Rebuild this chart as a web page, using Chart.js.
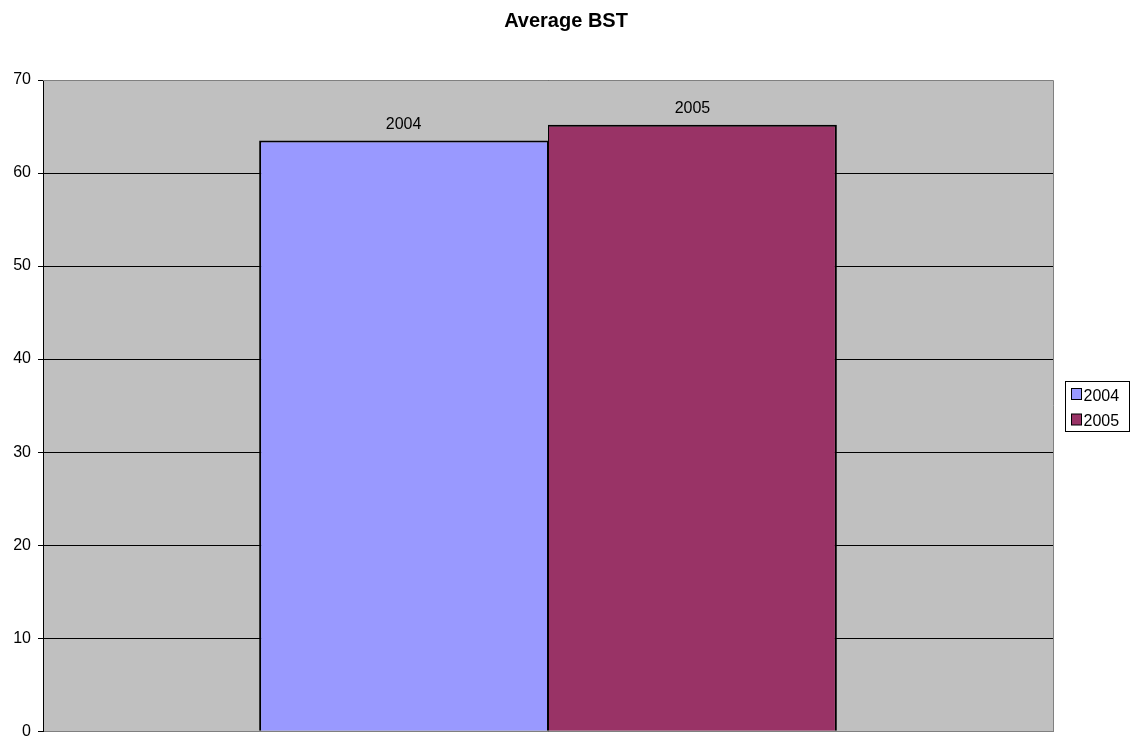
<!DOCTYPE html>
<html>
<head>
<meta charset="utf-8">
<script src="https://cdn.jsdelivr.net/npm/chart.js@4/dist/chart.umd.min.js"></script>
<style>
html,body{margin:0;padding:0;background:#fff;}
#wrap{width:1131px;height:739px;position:relative;}
</style>
</head>
<body>
<div id="wrap"><canvas id="c" width="1131" height="739"></canvas></div>
<script>
const chartTitle = "Average BST";
const categories = [""];
const seriesNames = ["2004", "2005"];
const values2004 = [63.5];
const values2005 = [65.2];
const yTicks = [0, 10, 20, 30, 40, 50, 60, 70];
const colors = ["#9999FF", "#993366"];
const FONT = "'Liberation Sans', Arial, sans-serif";

const plotBg = {
  id: 'plotBg',
  beforeDraw(chart) {
    const {ctx, chartArea: a} = chart;
    ctx.save();
    ctx.fillStyle = '#C0C0C0';
    ctx.fillRect(a.left, a.top, a.right - a.left, a.bottom - a.top);
    ctx.restore();
  },
  afterDraw(chart) {
    const {ctx, chartArea: a} = chart;
    ctx.save();
    // plot border (top/right)
    ctx.strokeStyle = '#808080';
    ctx.lineWidth = 1;
    ctx.beginPath();
    ctx.moveTo(a.left, a.top + 0.5);
    ctx.lineTo(a.right + 0.5, a.top + 0.5);
    ctx.lineTo(a.right + 0.5, a.bottom);
    ctx.stroke();
    // title
    ctx.fillStyle = '#000';
    ctx.font = "bold 20px " + FONT;
    ctx.textAlign = 'center';
    ctx.textBaseline = 'alphabetic';
    ctx.fillText(chartTitle, 566, 26.7);
    // data labels
    ctx.font = "16px " + FONT;
    chart.data.datasets.forEach((ds, i) => {
      const meta = chart.getDatasetMeta(i);
      meta.data.forEach(bar => {
        ctx.fillText(ds.label, bar.x, bar.y - 11.5);
      });
    });
    // legend
    const lx = 1065.5, ly = 381.5, lw = 64, lh = 50;
    ctx.fillStyle = '#fff';
    ctx.fillRect(lx, ly, lw, lh);
    ctx.strokeStyle = '#000';
    ctx.strokeRect(lx, ly, lw, lh);
    ctx.textAlign = 'left';
    chart.data.datasets.forEach((ds, i) => {
      const sy = 388.5 + i * 25.5;
      ctx.fillStyle = ds.backgroundColor;
      ctx.fillRect(1071.5, sy, 10, 11);
      ctx.strokeStyle = '#000';
      ctx.strokeRect(1071.5, sy, 10, 11);
      ctx.fillStyle = '#000';
      ctx.fillText(ds.label, 1083.5, 401 + i * 24.7);
    });
    ctx.restore();
  }
};

new Chart(document.getElementById('c'), {
  type: 'bar',
  data: {
    labels: categories,
    datasets: [
      {label: seriesNames[0], data: values2004, backgroundColor: colors[0], borderColor: '#000',
       borderWidth: {top: 2, left: 2, right: 1, bottom: 0}, borderSkipped: 'bottom'},
      {label: seriesNames[1], data: values2005, backgroundColor: colors[1], borderColor: '#000',
       borderWidth: {top: 2, left: 1, right: 2, bottom: 0}, borderSkipped: 'bottom'}
    ]
  },
  options: {
    responsive: false,
    animation: false,
    devicePixelRatio: 1,
    layout: {padding: {left: 0, right: 78, top: 80, bottom: 0}},
    datasets: {bar: {categoryPercentage: 0.572, barPercentage: 1}},
    plugins: {
      legend: {display: false},
      tooltip: {enabled: false},
      title: {display: false}
    },
    scales: {
      x: {
        grid: {display: false, drawTicks: false},
        border: {display: true, color: '#808080'},
        ticks: {display: false},
        afterFit(s) { s.height = 7; }
      },
      y: {
        min: 0, max: 70,
        afterBuildTicks(s) { s.ticks = yTicks.map(v => ({value: v})); },
        grid: {color: '#000', lineWidth: 1, tickLength: 5, drawOnChartArea: true},
        border: {display: true, color: '#000'},
        ticks: {color: '#000', font: {family: FONT, size: 16, lineHeight: 0.1}, padding: 7},
        afterFit(s) { s.width = 43; }
      }
    }
  },
  plugins: [plotBg]
});
</script>
</body>
</html>
